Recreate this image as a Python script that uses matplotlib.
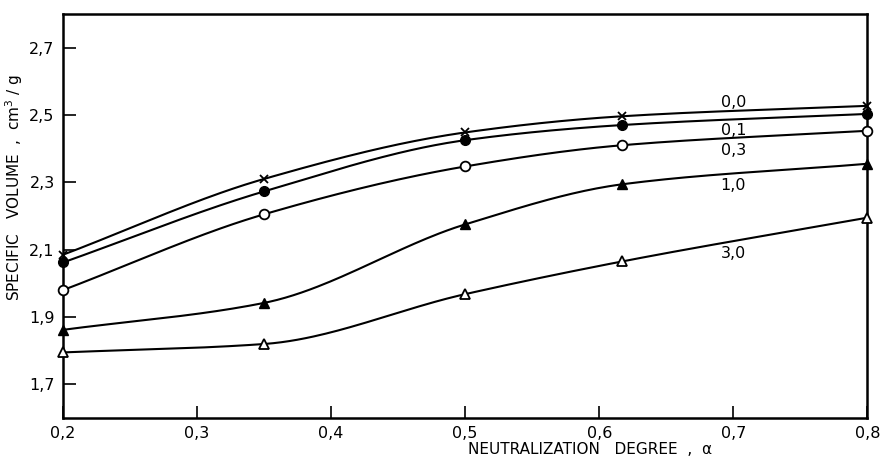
import numpy as np
import matplotlib
matplotlib.use("Agg")
import matplotlib.pyplot as plt

# neutralization degree (x) and specific volume (y) for each salt concentration
alpha = [0.2, 0.35, 0.5, 0.617, 0.8]
v_00 = [2.085, 2.31, 2.448, 2.496, 2.527]
v_01 = [2.062, 2.273, 2.425, 2.47, 2.503]
v_03 = [1.98, 2.205, 2.347, 2.41, 2.453]
v_10 = [1.862, 1.942, 2.175, 2.294, 2.355]
v_30 = [1.795, 1.82, 1.968, 2.065, 2.195]
labels = ["0,0", "0,1", "0,3", "1,0", "3,0"]
label_y = [2.538, 2.455, 2.393, 2.29, 2.09]
xticks = [0.2, 0.3, 0.4, 0.5, 0.6, 0.7, 0.8]
yticks = [1.7, 1.9, 2.1, 2.3, 2.5, 2.7]


def smooth(x, y, n=200):
    # monotone cubic (pchip) just for drawing the curve through the points
    x = np.asarray(x, float)
    y = np.asarray(y, float)
    h = np.diff(x)
    d = np.diff(y) / h
    m = np.zeros_like(y)
    for k in range(1, len(x) - 1):
        if d[k - 1] * d[k] > 0:
            w1 = 2 * h[k] + h[k - 1]
            w2 = h[k] + 2 * h[k - 1]
            m[k] = (w1 + w2) / (w1 / d[k - 1] + w2 / d[k])
    m[0] = d[0]
    m[-1] = d[-1]
    xs = np.linspace(x[0], x[-1], n)
    idx = np.clip(np.searchsorted(x, xs) - 1, 0, len(x) - 2)
    t = (xs - x[idx]) / h[idx]
    h00 = 2 * t**3 - 3 * t**2 + 1
    h10 = t**3 - 2 * t**2 + t
    h01 = -2 * t**3 + 3 * t**2
    h11 = t**3 - t**2
    ys = (h00 * y[idx] + h10 * h[idx] * m[idx] + h01 * y[idx + 1]
          + h11 * h[idx] * m[idx + 1])
    return xs, ys


fig = plt.figure(figsize=(8.81, 4.62), dpi=100)
ax = fig.add_axes([0.0715, 0.095, 0.913, 0.875])

series = [
    (v_00, dict(marker="x", mfc="black", ms=6, mew=1.3)),
    (v_01, dict(marker="o", mfc="black", ms=7)),
    (v_03, dict(marker="o", mfc="white", ms=7, mew=1.3)),
    (v_10, dict(marker="^", mfc="black", ms=7)),
    (v_30, dict(marker="^", mfc="white", ms=7, mew=1.3)),
]
for vals, style in series:
    xs, ys = smooth(alpha, vals)
    ax.plot(xs, ys, color="black", lw=1.5, zorder=2)
    ax.plot(alpha, vals, linestyle="none", color="black", mec="black",
            clip_on=False, zorder=3, **style)

for lab, ly in zip(labels, label_y):
    ax.text(0.7, ly, lab, ha="center", va="center", fontsize=11.5)

ax.set_xlim(0.2, 0.8)
ax.set_ylim(1.6, 2.8)
ax.set_xticks(xticks)
ax.set_yticks(yticks)
ax.set_xticklabels([f"{v:.1f}".replace(".", ",") for v in xticks], fontsize=11.5)
ax.set_yticklabels([f"{v:.1f}".replace(".", ",") for v in yticks], fontsize=11.5)
ax.tick_params(direction="in", length=9, width=1.2, pad=6)
for sp in ax.spines.values():
    sp.set_linewidth(1.8)

ax.set_xlabel("NEUTRALIZATION   DEGREE  ,  α", fontsize=11)
ax.xaxis.set_label_coords(0.655, -0.06)
ax.set_ylabel("SPECIFIC   VOLUME  ,  cm$^3$ / g", fontsize=11)
ax.yaxis.set_label_coords(-0.047, 0.57)

fig.savefig("out.png", dpi=100)
